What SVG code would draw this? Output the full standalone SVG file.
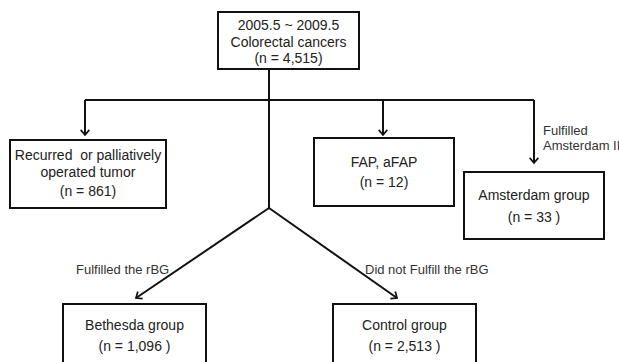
<svg xmlns="http://www.w3.org/2000/svg" width="619" height="362" viewBox="0 0 619 362">
<defs>
<marker id="arr" markerWidth="12" markerHeight="12" viewBox="-7 -7 8 14" refX="0" refY="0" orient="auto" markerUnits="userSpaceOnUse">
<path d="M-6,-5 L0,0 L-6,5" fill="none" stroke="#111" stroke-width="2"/>
</marker>
</defs>
<style>
.box{fill:#fff;stroke:#111;stroke-width:2}
.t{font-family:"Liberation Sans",Arial,sans-serif;font-size:14px;fill:#222;text-anchor:middle}
.l{font-family:"Liberation Sans",Arial,sans-serif;font-size:13px;fill:#333}
.c{fill:none;stroke:#111;stroke-width:2}
</style>
<rect width="619" height="362" fill="#fff"/>
<g id="connectors">
<path class="c" d="M269,69 V208"/>
<path class="c" d="M85,100 H534"/>
<path class="c" d="M85,100 V135" marker-end="url(#arr)"/>
<path class="c" d="M383,100 V135" marker-end="url(#arr)"/>
<path class="c" d="M534,100 V163" marker-end="url(#arr)"/>
<path class="c" d="M269,208 L136,298" marker-end="url(#arr)"/>
<path class="c" d="M269,208 L397,298" marker-end="url(#arr)"/>
<text class="l" x="543" y="135">Fulfilled</text>
<text class="l" x="543" y="150">Amsterdam II</text>
<text class="l" x="76" y="274">Fulfilled the rBG</text>
<text class="l" x="365" y="274">Did not Fulfill the rBG</text>
</g>
<g id="top">
<rect class="box" x="218" y="12" width="141" height="57"/>
<text class="t" x="288.5" y="30">2005.5 ~ 2009.5</text>
<text class="t" x="288.5" y="47">Colorectal cancers</text>
<text class="t" x="288.5" y="63">(n = 4,515)</text>
</g>
<g id="recurred">
<rect class="box" x="10" y="140" width="156" height="68"/>
<text class="t" x="88" y="160" xml:space="preserve">Recurred  or palliatively</text>
<text class="t" x="88" y="177">operated tumor</text>
<text class="t" x="88" y="196">(n = 861)</text>
</g>
<g id="fap">
<rect class="box" x="314" y="138" width="140" height="68"/>
<text class="t" x="384" y="167">FAP, aFAP</text>
<text class="t" x="384" y="187">(n = 12)</text>
</g>
<g id="amsterdam">
<rect class="box" x="464" y="172" width="140" height="67"/>
<text class="t" x="534" y="200">Amsterdam group</text>
<text class="t" x="534" y="222">(n = 33 )</text>
</g>
<g id="bethesda">
<rect class="box" x="63" y="304" width="143" height="64"/>
<text class="t" x="134.5" y="330">Bethesda group</text>
<text class="t" x="134.5" y="351">(n = 1,096 )</text>
</g>
<g id="control">
<rect class="box" x="333" y="304" width="143" height="64"/>
<text class="t" x="404.5" y="330">Control group</text>
<text class="t" x="404.5" y="351">(n = 2,513 )</text>
</g>
</svg>
